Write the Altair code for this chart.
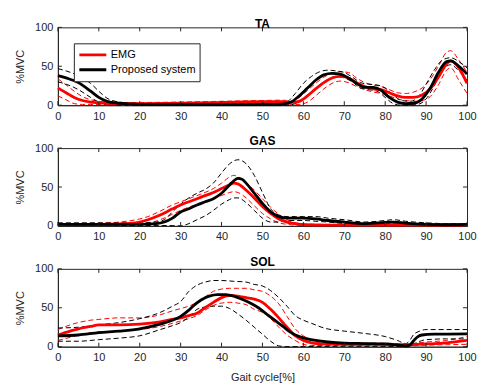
import altair as alt
import pandas as pd

# ---------------- data ----------------
X_TICKS = list(range(0, 101, 10))
Y_TICKS = [0, 50, 100]
SOURCES = ["EMG", "Proposed system"]
PANELS = ["TA", "GAS", "SOL"]

# TA
TA_EMG_MEAN = [(0,22),(2,16),(4,10),(6,6),(8,4),(10,3),(15,2),(20,2),(30,2.5),(40,3.5),(50,4.5),(55,4.5),(57,3.5),(59,5),(61,12),(63,21),(65,29),(67,35),(69,37),(71,35),(73,29),(75,24),(77,21),(79,20),(81,16),(83,12),(85,10),(87,10),(89,13),(91,21),(93,36),(95,53),(96,57),(98,48),(100,28)]
TA_EMG_UP = [(0,34),(2,26),(4,18),(6,11),(8,7),(10,5),(15,3.5),(20,3.5),(30,4),(40,5),(50,6),(55,6.5),(57,5),(59,10),(61,19),(63,28),(65,36),(67,41),(69,43),(71,42),(73,35),(75,29),(77,26),(79,24),(81,20),(83,16),(85,15),(87,17),(89,22),(91,33),(93,50),(95,68),(96,70),(98,58),(100,42)]
TA_EMG_LO = [(0,12),(2,7),(4,2),(6,1),(8,1),(10,1),(15,0.5),(20,0.5),(30,1),(40,2),(50,3),(55,3),(57,1),(59,1),(61,4),(63,12),(65,21),(67,28),(69,31),(71,29),(73,24),(75,20),(77,17),(79,15),(81,12),(83,8),(85,6),(87,5),(89,6),(91,11),(93,26),(95,45),(96,48),(98,32),(100,15)]
TA_SYS_MEAN = [(0,38),(2,35),(5,29),(8,18),(10,10),(12,5),(15,2.5),(18,1.5),(20,1),(30,1),(40,0.8),(50,1),(55,1.5),(57,4),(59,12),(61,22),(63,32),(65,39),(67,41),(69,40),(71,35),(73,28),(75,23),(77,23),(79,19),(81,10),(83,4),(85,2),(87,2.5),(89,8),(91,22),(93,42),(95,56),(96,57),(98,50),(100,40)]
TA_SYS_UP = [(0,47),(2,44),(5,38),(8,28),(10,18),(12,9),(15,4),(18,2.5),(30,2),(40,2),(50,2),(55,2.5),(56,4),(58,15),(60,28),(62,37),(64,43),(66,45),(68,44),(70,42),(72,36),(74,29),(76,27),(78,26),(80,22),(82,13),(84,6),(86,5),(88,10),(90,27),(92,45),(94,58),(96,61),(98,56),(100,48)]
TA_SYS_LO = [(0,30),(2,27),(5,20),(8,10),(10,4),(12,1),(15,0),(56,0),(58,2),(60,8),(62,16),(64,26),(66,33),(68,37),(70,35),(72,30),(74,22),(76,20),(78,18),(80,10),(82,2),(84,0),(86,0),(88,1),(90,8),(92,25),(94,45),(96,52),(98,44),(100,32)]

# GAS
GAS_EMG_MEAN = [(0,2),(10,2),(15,2.5),(20,5),(22,8),(25,14),(28,22),(30,27),(33,33),(35,37),(38,43),(40,48),(42,53),(43,55),(44,54),(46,46),(48,36),(50,25),(52,16),(54,9),(56,5),(58,3),(60,1.5),(65,1),(70,1),(80,1),(90,1),(100,1.5)]
GAS_EMG_UP = [(0,3),(10,3.5),(15,5),(20,9),(22,12),(25,19),(28,27),(30,31),(33,37),(35,41),(38,48),(40,55),(42,63),(43,65),(44,63),(46,56),(48,46),(50,35),(52,24),(54,15),(56,8),(58,4),(60,2.5),(65,2),(80,2),(100,3)]
GAS_EMG_LO = [(0,1),(10,0.5),(15,0.5),(20,1),(22,3),(25,8),(28,15),(30,20),(33,26),(35,30),(38,35),(40,39),(42,43),(43,44),(44,43),(46,36),(48,26),(50,16),(52,9),(54,4),(56,2),(58,1),(60,0.5),(100,0.5)]
GAS_SYS_MEAN = [(0,2),(10,2),(20,2),(24,3),(26,5),(28,10),(30,18),(32,22),(34,27),(36,31),(38,35),(40,42),(42,53),(43,58),(44,61),(45,60),(46,55),(48,42),(50,29),(52,18),(54,12),(56,10),(58,10),(60,10),(63,9),(66,7),(70,5),(75,3),(80,4.5),(82,5),(85,3.5),(90,2),(95,1.5),(100,2)]
GAS_SYS_UP = [(0,4),(10,4),(20,4),(24,5),(26,8),(28,18),(30,28),(32,36),(34,42),(36,47),(38,55),(40,68),(42,80),(44,85),(46,80),(48,65),(50,43),(52,22),(54,14),(56,12),(58,12),(60,12),(63,12),(66,10),(70,8),(75,5),(80,7),(82,8),(85,6),(90,4),(95,3),(100,3)]
GAS_SYS_LO = [(0,0.5),(20,0.5),(28,0.5),(30,0),(32,3),(34,8),(36,13),(38,20),(40,28),(42,34),(43,36),(44,36),(46,30),(48,20),(50,10),(52,5),(54,5),(56,7),(58,7),(60,7),(63,6),(66,5),(70,3),(75,1),(80,2),(82,2.5),(85,1),(90,0.5),(100,1)]

# SOL
SOL_EMG_MEAN = [(0,15),(3,20),(5,23),(8,26),(10,28),(15,28),(20,29),(25,32),(28,35),(30,37),(32,40),(34,43),(36,50),(38,57),(40,63),(42,66),(44,65),(46,63),(48,61),(50,57),(52,48),(54,37),(56,25),(58,14),(60,8),(62,5),(64,3.5),(70,3),(80,3),(85,2.5),(90,3.5),(95,5),(100,8)]
SOL_EMG_UP = [(0,22),(3,28),(5,31),(8,34),(10,35),(15,37),(20,37),(25,41),(28,46),(30,49),(32,52),(34,57),(36,64),(38,71),(40,74),(42,75),(44,75),(46,75),(48,73),(50,71),(52,65),(54,55),(56,39),(58,23),(60,14),(62,8),(64,5),(70,4.5),(80,4.5),(85,3.5),(90,6),(95,8),(100,13)]
SOL_EMG_LO = [(0,8),(3,12),(5,15),(8,18),(10,19),(15,20),(20,22),(25,26),(28,30),(30,33),(32,36),(34,40),(36,47),(38,53),(40,56),(42,57),(44,56),(46,54),(48,48),(50,44),(52,36),(54,25),(56,15),(58,8),(60,3),(62,1.5),(70,1.5),(85,1),(90,2),(95,2.5),(100,3)]
SOL_SYS_MEAN = [(0,14),(5,15),(10,18),(15,20),(20,23),(25,29),(28,34),(30,39),(32,47),(33,52),(35,60),(37,65),(39,67),(41,67),(43,65),(45,61),(47,56),(49,50),(51,42),(53,34),(55,26),(57,18),(59,13),(61,10),(63,8),(66,6),(70,4.5),(75,4),(80,3.5),(83,2),(85,1),(86,2),(87,8),(88,13),(89,15),(92,16),(100,16.5)]
SOL_SYS_UP = [(0,24),(5,25),(10,28),(15,31),(20,36),(25,44),(28,52),(30,58),(32,71),(34,79),(36,83),(38,85),(40,85),(43,84),(46,83),(48,80),(50,78),(52,72),(54,63),(56,52),(58,40),(60,34),(62,30),(65,24),(70,20),(75,17),(80,13),(83,8),(85,4),(86,8),(87,16),(88,19),(90,22),(95,22),(100,22)]
SOL_SYS_LO = [(0,7),(5,7),(10,9),(15,11),(20,14),(25,22),(28,27),(30,31),(32,38),(34,48),(36,51),(38,52),(40,52),(42,49),(44,42),(46,34),(48,25),(50,16),(52,7),(54,1),(56,0),(70,0.5),(80,0.5),(85,0),(86,0.5),(88,6),(90,9),(95,10),(100,10)]

PANEL_SERIES = {
    "TA": (TA_EMG_MEAN, TA_EMG_UP, TA_EMG_LO, TA_SYS_MEAN, TA_SYS_UP, TA_SYS_LO),
    "GAS": (GAS_EMG_MEAN, GAS_EMG_UP, GAS_EMG_LO, GAS_SYS_MEAN, GAS_SYS_UP, GAS_SYS_LO),
    "SOL": (SOL_EMG_MEAN, SOL_EMG_UP, SOL_EMG_LO, SOL_SYS_MEAN, SOL_SYS_UP, SOL_SYS_LO),
}

# ---------------- styling ----------------
W, H = 410, 78
TICK_LEN = 4
FONT = "Liberation Sans"
GRAY = "#262626"
COLORS = ["#ff0000", "#000000"]


def frame(pairs, source, stat):
    return pd.DataFrame({
        "x": [p[0] for p in pairs],
        "y": [p[1] for p in pairs],
        "source": source,
        "stat": stat,
        "line": f"{source}-{stat}",
    })


def panel(name, show_legend, show_xtitle, title_offset):
    em, eu, el, sm, su, sl = PANEL_SERIES[name]
    df = pd.concat([
        frame(em, "EMG", "mean"), frame(eu, "EMG", "upper"), frame(el, "EMG", "lower"),
        frame(sm, "Proposed system", "mean"), frame(su, "Proposed system", "upper"),
        frame(sl, "Proposed system", "lower"),
    ], ignore_index=True)

    xs = alt.Scale(domain=[0, 100], nice=False, zero=False)
    ys = alt.Scale(domain=[0, 100], nice=False)
    cs = alt.Scale(domain=SOURCES, range=COLORS)

    xaxis = alt.Axis(values=X_TICKS, title="Gait cycle[%]" if show_xtitle else None,
                     labelFlush=False, labelOverlap=False)
    yaxis = alt.Axis(values=Y_TICKS, title="%MVC", labelFlush=False, labelOverlap=False)

    if show_legend:
        legend = alt.Legend(
            title=None, orient="top-left", offset=16, symbolType="stroke",
            symbolSize=729, symbolStrokeWidth=2.8, labelFont=FONT, labelFontSize=11,
            labelColor="black", strokeColor=GRAY, fillColor="white", padding=4,
            rowPadding=0, clipHeight=15, labelOffset=3,
        )
        color_sd = alt.Color("source:N", scale=cs)
    else:
        legend = None
        color_sd = alt.Color("source:N", scale=cs, legend=None)

    base = alt.Chart(df)
    sd = base.transform_filter(alt.datum.stat != "mean").mark_line(
        strokeWidth=1, strokeDash=[5, 3], interpolate="monotone"
    ).encode(
        x=alt.X("x:Q", scale=xs, axis=xaxis),
        y=alt.Y("y:Q", scale=ys, axis=yaxis),
        color=color_sd,
        detail="line:N",
    )
    mean = base.transform_filter(alt.datum.stat == "mean").mark_line(
        strokeWidth=2.8, interpolate="monotone"
    ).encode(
        x=alt.X("x:Q", scale=xs, axis=xaxis),
        y=alt.Y("y:Q", scale=ys, axis=yaxis),
        color=alt.Color("source:N", scale=cs, legend=legend),
    )

    tx = pd.DataFrame({"t": X_TICKS})
    ty = pd.DataFrame({"t": Y_TICKS})
    tick_style = dict(color=GRAY, strokeWidth=1)
    bottom = alt.Chart(tx).mark_rule(**tick_style).encode(
        x=alt.X("t:Q", scale=xs, axis=xaxis), y=alt.value(H), y2=alt.value(H - TICK_LEN))
    top = alt.Chart(tx).mark_rule(**tick_style).encode(
        x=alt.X("t:Q", scale=xs, axis=xaxis), y=alt.value(0), y2=alt.value(TICK_LEN))
    left = alt.Chart(ty).mark_rule(**tick_style).encode(
        y=alt.Y("t:Q", scale=ys, axis=yaxis), x=alt.value(0), x2=alt.value(TICK_LEN))
    right = alt.Chart(ty).mark_rule(**tick_style).encode(
        y=alt.Y("t:Q", scale=ys, axis=yaxis), x=alt.value(W), x2=alt.value(W - TICK_LEN))

    return alt.layer(sd, mean, bottom, top, left, right).properties(
        width=W, height=H,
        title=alt.TitleParams(name, font=FONT, fontSize=12, fontWeight="bold",
                              color="black", offset=title_offset, frame="group"),
    )


chart = alt.vconcat(
    panel("TA", True, False, -10),
    panel("GAS", False, False, -6),
    panel("SOL", False, True, -6),
    spacing=12,
).properties(
    padding={"left": 5, "top": 9, "right": 0, "bottom": 0}
).resolve_scale(color="independent").resolve_legend(color="independent").configure_view(
    stroke=GRAY, strokeWidth=1
).configure_axis(
    labelFont=FONT, labelFontSize=11, labelColor=GRAY, titleFont=FONT, titleFontSize=11,
    titleColor=GRAY, titleFontWeight="normal", domainColor=GRAY, ticks=False, tickSize=0,
    grid=False, labelPadding=5,
).configure_axisY(titlePadding=9.5).configure_axisX(titlePadding=9)

chart.save("out.html", embed_options={"renderer": "svg", "actions": False})
